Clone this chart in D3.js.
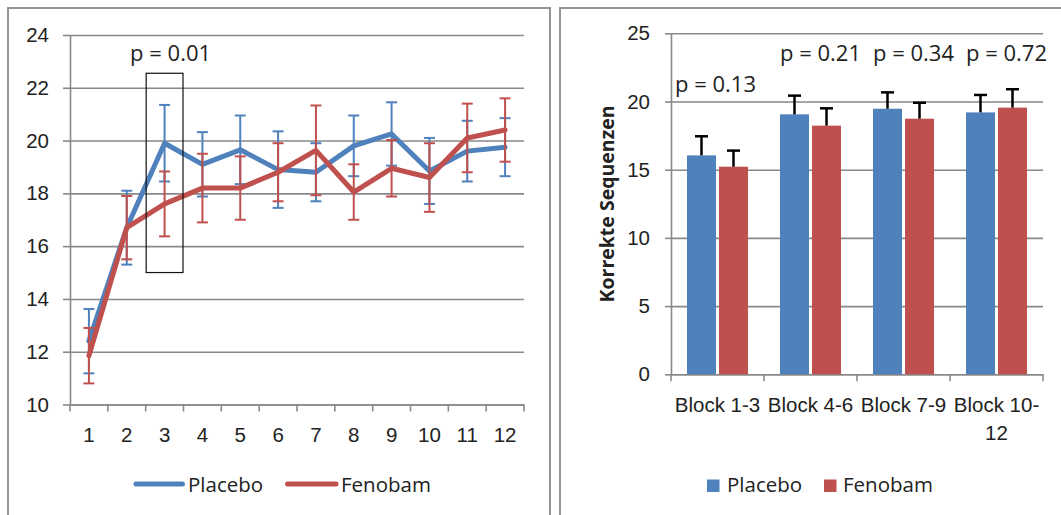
<!DOCTYPE html>
<html>
<head>
<meta charset="utf-8">
<script src="https://cdn.jsdelivr.net/npm/d3@7"></script>
<style>
    body { margin: 0; background: #fff; }
    svg { display: block; font-family: 'Open Sans', sans-serif; }
</style>
</head>
<body>
<svg id="vis" width="1061" height="515"></svg>
<script>
// ---- data ----
const blocks = ["1", "2", "3", "4", "5", "6", "7", "8", "9", "10", "11", "12"];
const placeboMeans = [12.4, 16.7, 19.9, 19.1, 19.65, 18.9, 18.8, 19.8, 20.25, 18.85, 19.6, 19.75];
const placeboErr = [1.22, 1.4, 1.45, 1.22, 1.3, 1.45, 1.1, 1.15, 1.2, 1.25, 1.15, 1.1];
const fenobamMeans = [11.85, 16.7, 17.6, 18.2, 18.2, 18.8, 19.63, 18.05, 18.95, 18.6, 20.1, 20.4];
const fenobamErr = [1.05, 1.2, 1.23, 1.3, 1.2, 1.1, 1.7, 1.05, 1.07, 1.3, 1.3, 1.2];
const leftTicks = [10, 12, 14, 16, 18, 20, 22, 24];
const highlightBlock = "3";
const highlightRange = [15, 22.55];
const leftPValue = "p = 0.01";

const groups = ["Block 1-3", "Block 4-6", "Block 7-9", "Block 10-12"];
const placeboBlock = [16.05, 19.06, 19.47, 19.2];
const placeboBlockErr = [1.4, 1.37, 1.2, 1.28];
const fenobamBlock = [15.22, 18.23, 18.74, 19.55];
const fenobamBlockErr = [1.18, 1.27, 1.17, 1.35];
const rightTicks = [0, 5, 10, 15, 20, 25];
const pValues = ["p = 0.13", "p = 0.21", "p = 0.34", "p = 0.72"];
const pHeights = [20.7, 23, 23, 23];

const seriesNames = ["Placebo", "Fenobam"];
const yLabel = "Korrekte Sequenzen";

const COLORS = {Placebo: "#4F81BD", Fenobam: "#C0504D"};
const GRID = "#898989";
const TEXT = "#222";

const svg = d3.select("#vis");

// panel frames
svg.append("rect").attr("x", 8).attr("y", 8).attr("width", 542).attr("height", 530)
    .attr("fill", "none").attr("stroke", GRID).attr("stroke-width", 1.8);
svg.append("rect").attr("x", 560).attr("y", 8).attr("width", 530).attr("height", 530)
    .attr("fill", "none").attr("stroke", GRID).attr("stroke-width", 1.8);

function styleAxis(g, size) {
    g.selectAll("path, line").attr("stroke", GRID).attr("stroke-width", 1.6);
    g.selectAll("text").attr("fill", TEXT).style("font-size", size + "px");
}

// ================= left chart =================
const X_LEFT = d3.scaleBand().domain(blocks).range([70, 524]);
const Y_LEFT = d3.scaleLinear().domain([10, 24]).range([404.5, 35]);
const left = svg.append("g");

// gridlines
left.append("g")
    .attr("transform", "translate(70,0)")
    .call(d3.axisLeft(Y_LEFT).tickValues(leftTicks).tickSize(-(524 - 70)).tickFormat(""))
    .call(g => g.select(".domain").remove())
    .call(g => styleAxis(g, 20));

left.append("g")
    .attr("transform", "translate(70,0)")
    .call(d3.axisLeft(Y_LEFT).tickValues(leftTicks).tickSize(7).tickSizeOuter(0).tickPadding(14))
    .call(g => styleAxis(g, 20.5));

const xAxisL = left.append("g")
    .attr("transform", "translate(0," + Y_LEFT(10) + ")")
    .call(d3.axisBottom(X_LEFT).tickSize(0).tickSizeOuter(0).tickPadding(23))
    .call(g => styleAxis(g, 20.5));
// ticks sit between the categories
xAxisL.selectAll("line.edge")
    .data(blocks.map(b => X_LEFT(b)).concat([X_LEFT.range()[1]]))
    .join("line").attr("class", "edge")
    .attr("x1", d => d).attr("x2", d => d).attr("y1", 0).attr("y2", 7)
    .attr("stroke", GRID).attr("stroke-width", 1.6);

const cx = (d, i) => X_LEFT(blocks[i]) + X_LEFT.bandwidth() / 2;

function errorBars(g, means, errs, color, xf, cap) {
    const eb = g.append("g").attr("stroke", color).attr("stroke-width", 2);
    means.forEach((m, i) => {
        const x = xf(m, i);
        eb.append("line").attr("x1", x).attr("x2", x)
            .attr("y1", Y_LEFT(m - errs[i])).attr("y2", Y_LEFT(m + errs[i]));
        [m - errs[i], m + errs[i]].forEach(v => {
            eb.append("line").attr("x1", x - cap / 2).attr("x2", x + cap / 2)
                .attr("y1", Y_LEFT(v)).attr("y2", Y_LEFT(v));
        });
    });
}

const lineL = d3.line().x(cx).y(d => Y_LEFT(d));

errorBars(left, placeboMeans, placeboErr, COLORS.Placebo, cx, 11);
left.append("path").datum(placeboMeans).attr("d", lineL)
    .attr("fill", "none").attr("stroke", COLORS.Placebo).attr("stroke-width", 5)
    .attr("stroke-linejoin", "round").attr("stroke-linecap", "round");
errorBars(left, fenobamMeans, fenobamErr, COLORS.Fenobam, cx, 11);
left.append("path").datum(fenobamMeans).attr("d", lineL)
    .attr("fill", "none").attr("stroke", COLORS.Fenobam).attr("stroke-width", 5)
    .attr("stroke-linejoin", "round").attr("stroke-linecap", "round");

// highlight box for block 3
left.append("rect")
    .attr("x", X_LEFT(highlightBlock) + 0.5)
    .attr("width", X_LEFT.bandwidth() - 1)
    .attr("y", Y_LEFT(highlightRange[1]))
    .attr("height", Y_LEFT(highlightRange[0]) - Y_LEFT(highlightRange[1]))
    .attr("fill", "none").attr("stroke", "#111").attr("stroke-width", 1.2);

left.append("text")
    .attr("x", X_LEFT(highlightBlock) + X_LEFT.bandwidth() / 2 + 6)
    .attr("y", Y_LEFT(23))
    .attr("text-anchor", "middle").attr("fill", TEXT)
    .style("font-size", "22px").text(leftPValue);

// legend left
const legL = left.append("g");
[[136, 182.5, 188], [287.5, 336, 341]].forEach((p, i) => {
    legL.append("line").attr("x1", p[0]).attr("x2", p[1]).attr("y1", 484).attr("y2", 484)
        .attr("stroke", COLORS[seriesNames[i]]).attr("stroke-width", 5).attr("stroke-linecap", "round");
    legL.append("text").attr("x", p[2]).attr("y", 492).attr("fill", TEXT)
        .style("font-size", "20.5px").text(seriesNames[i]);
});

// ================= right chart =================
const X_RIGHT = d3.scaleBand().domain(groups).range([671, 1043]);
const X_SUB = d3.scaleBand().domain(seriesNames)
    .range([16, X_RIGHT.bandwidth() - 16]).paddingInner(0.094);
const Y_RIGHT = d3.scaleLinear().domain([0, 25]).range([374.3, 33.3]);
const right = svg.append("g");

right.append("g")
    .attr("transform", "translate(671,0)")
    .call(d3.axisLeft(Y_RIGHT).tickValues(rightTicks).tickSize(-(1043 - 671)).tickFormat(""))
    .call(g => g.select(".domain").remove())
    .call(g => styleAxis(g, 20));

right.append("g")
    .attr("transform", "translate(671,0)")
    .call(d3.axisLeft(Y_RIGHT).tickValues(rightTicks).tickSize(6).tickSizeOuter(0).tickPadding(15))
    .call(g => styleAxis(g, 20.5));

const xAxisR = right.append("g")
    .attr("transform", "translate(0," + Y_RIGHT(0) + ")")
    .call(d3.axisBottom(X_RIGHT).tickSize(0).tickSizeOuter(0).tickPadding(23))
    .call(g => styleAxis(g, 20.5));
xAxisR.selectAll("line.edge")
    .data(groups.map(b => X_RIGHT(b)).concat([X_RIGHT.range()[1]]))
    .join("line").attr("class", "edge")
    .attr("x1", d => d).attr("x2", d => d).attr("y1", 0).attr("y2", 7)
    .attr("stroke", GRID).attr("stroke-width", 1.6);

// wrap long labels after the hyphen, like Excel
xAxisR.selectAll(".tick text").each(function (d) {
    const t = d3.select(this);
    if (this.getComputedTextLength() > X_RIGHT.bandwidth() - 4) {
        const cut = d.lastIndexOf("-") + 1;
        const y = t.attr("y"), dy = t.attr("dy");
        t.text(null);
        t.append("tspan").attr("x", 0).attr("y", y).attr("dy", dy).text(d.slice(0, cut));
        t.append("tspan").attr("x", 0).attr("y", y).attr("dy", "2.1em").text(d.slice(cut));
    }
});

const barData = [];
groups.forEach((g, i) => {
    barData.push({group: g, series: "Placebo", value: placeboBlock[i], err: placeboBlockErr[i]});
    barData.push({group: g, series: "Fenobam", value: fenobamBlock[i], err: fenobamBlockErr[i]});
});

const bx = d => X_RIGHT(d.group) + X_SUB(d.series);

right.selectAll("rect.bar")
    .data(barData)
    .enter()
    .append("rect")
    .attr("class", "bar")
    .attr("x", bx)
    .attr("y", d => Y_RIGHT(d.value))
    .attr("width", X_SUB.bandwidth())
    .attr("height", d => Y_RIGHT(0) - Y_RIGHT(d.value))
    .attr("fill", d => COLORS[d.series]);

const ebR = right.append("g").attr("stroke", "#000").attr("stroke-width", 2.5);
barData.forEach(d => {
    const x = bx(d) + X_SUB.bandwidth() / 2;
    ebR.append("line").attr("x1", x).attr("x2", x)
        .attr("y1", Y_RIGHT(d.value)).attr("y2", Y_RIGHT(d.value + d.err));
    ebR.append("line").attr("x1", x - 6.5).attr("x2", x + 6.5)
        .attr("y1", Y_RIGHT(d.value + d.err)).attr("y2", Y_RIGHT(d.value + d.err));
});

// p values above the blocks
right.selectAll("text.p")
    .data(pValues)
    .enter()
    .append("text")
    .attr("class", "p")
    .attr("x", (d, i) => X_RIGHT(groups[i]) + X_RIGHT.bandwidth() / 2 + (i === 0 ? -2 : 10))
    .attr("y", (d, i) => Y_RIGHT(pHeights[i]))
    .attr("text-anchor", "middle").attr("fill", TEXT)
    .style("font-size", "22px")
    .text(d => d);

right.append("text")
    .attr("transform", "translate(606,204) rotate(-90)")
    .attr("text-anchor", "middle").attr("dominant-baseline", "central")
    .attr("fill", TEXT).style("font-size", "19.5px").style("font-weight", "bold")
    .text(yLabel);

// legend right
const legR = right.append("g");
[[707, 727], [824, 843]].forEach((p, i) => {
    legR.append("rect").attr("x", p[0]).attr("y", 479.5).attr("width", 12.5).attr("height", 12.5)
        .attr("fill", COLORS[seriesNames[i]]);
    legR.append("text").attr("x", p[1]).attr("y", 492).attr("fill", TEXT)
        .style("font-size", "20.5px").text(seriesNames[i]);
});
</script>
</body>
</html>
